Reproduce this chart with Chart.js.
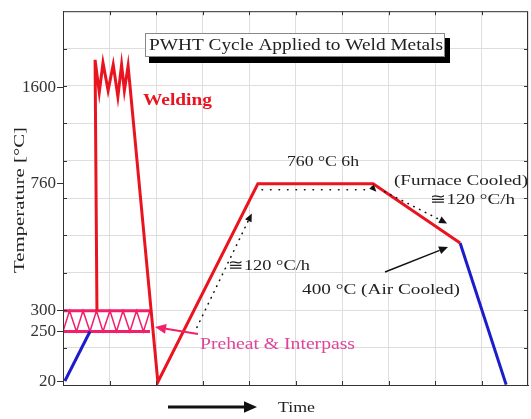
<!DOCTYPE html>
<html lang="en">
  <head>
    <meta charset="UTF-8" />
    <title>PWHT Cycle</title>
    <script src="https://cdn.jsdelivr.net/npm/chart.js"></script>
    <style>
      body {
        margin: 0;
        padding: 0;
        background: #fff;
      }
      canvas {
        display: block;
      }
    </style>
  </head>
  <body>
    <canvas id="pwhtChart" width="531" height="419"></canvas>

    <script>
      // time axis is schematic (grid units 0..10), temperatures in degC
      const tempTicks = [20, 250, 300, 760, 1600];

      const preheatTime = [0.04, 0.58];
      const preheatTemp = [20, 250];

      const cycleTime = [0.73, 0.69, 0.78, 0.86, 0.97, 1.08, 1.18, 1.26, 1.32, 1.4, 2.04, 4.19, 6.67, 8.54];
      const cycleTemp = [300, 1842, 1557, 1816, 1574, 1800, 1520, 1800, 1574, 1790, 15, 760, 760, 545];

      const airTime = [8.54, 9.53];
      const airTemp = [545, 2];

      const bandTime = [0, 1.87];
      const bandTop = [300, 300];
      const bandBottom = [250, 250];

      const zigTime = [0, 0.14, 0.29, 0.43, 0.58, 0.72, 0.86, 1.01, 1.15, 1.29, 1.44, 1.58, 1.73, 1.87];
      const zigTemp = [250, 300, 250, 300, 250, 300, 250, 300, 250, 300, 250, 300, 250, 300];

      // the temperature axis is broken: each label sits at its own height
      const axisTemps = [0, 20, 250, 300, 760, 1600, 2267];
      const axisFracs = [0, 0.0106, 0.1432, 0.1989, 0.5385, 0.7958, 1];

      function tempToFrac(t) {
        for (let i = 1; i < axisTemps.length; i++) {
          if (t <= axisTemps[i] || i === axisTemps.length - 1) {
            const k = (t - axisTemps[i - 1]) / (axisTemps[i] - axisTemps[i - 1]);
            return axisFracs[i - 1] + k * (axisFracs[i] - axisFracs[i - 1]);
          }
        }
      }
      function fracToTemp(f) {
        for (let i = 1; i < axisFracs.length; i++) {
          if (f <= axisFracs[i] || i === axisFracs.length - 1) {
            const k = (f - axisFracs[i - 1]) / (axisFracs[i] - axisFracs[i - 1]);
            return axisTemps[i - 1] + k * (axisTemps[i] - axisTemps[i - 1]);
          }
        }
      }

      class TempScale extends Chart.LinearScale {
        getPixelForValue(v) {
          return this.getPixelForDecimal(tempToFrac(v));
        }
        getValueForPixel(p) {
          return fracToTemp(this.getDecimalForPixel(p));
        }
      }
      TempScale.id = "temp";
      TempScale.defaults = {};
      Chart.register(TempScale);

      const RED = "#ea1420";
      const BLUE = "#1c1ccc";
      const PINK = "#f2206a";
      const SERIF = "'Liberation Serif', 'Times New Roman', serif";

      function pts(xs, ys) {
        return xs.map((x, i) => ({ x: x, y: ys[i] }));
      }

      function line(data, color, width) {
        return {
          data: data,
          borderColor: color,
          borderWidth: width,
          pointRadius: 0,
          tension: 0,
          fill: false,
          yAxisID: "y",
        };
      }

      // text squeezed/stretched to the width it has in the picture
      function text(ctx, str, x, y, size, w, color, opts) {
        opts = opts || {};
        ctx.save();
        ctx.font = (opts.bold ? "bold " : "") + size + "px " + SERIF;
        ctx.fillStyle = color;
        ctx.textBaseline = "middle";
        ctx.textAlign = "left";
        const m = ctx.measureText(str).width;
        ctx.translate(x, y);
        if (opts.rotate) ctx.rotate(opts.rotate);
        ctx.scale(w / m, 1);
        ctx.fillText(str, opts.center ? -m / 2 : 0, 0);
        ctx.restore();
      }

      function arrow(ctx, x1, y1, x2, y2, color, width, head, dash) {
        const a = Math.atan2(y2 - y1, x2 - x1);
        const bx = x2 - head * Math.cos(a);
        const by = y2 - head * Math.sin(a);
        ctx.save();
        ctx.strokeStyle = color;
        ctx.fillStyle = color;
        ctx.lineWidth = width;
        if (dash) {
          ctx.setLineDash(dash);
          ctx.lineCap = "round";
        }
        ctx.beginPath();
        ctx.moveTo(x1, y1);
        ctx.lineTo(bx, by);
        ctx.stroke();
        ctx.setLineDash([]);
        const hw = head * 0.45;
        ctx.beginPath();
        ctx.moveTo(x2, y2);
        ctx.lineTo(bx + hw * Math.sin(a), by - hw * Math.cos(a));
        ctx.lineTo(bx - hw * Math.sin(a), by + hw * Math.cos(a));
        ctx.closePath();
        ctx.fill();
        ctx.restore();
      }

      const framePlugin = {
        id: "frame",
        afterDraw(chart) {
          const ctx = chart.ctx;
          const a = chart.chartArea;
          const xs = chart.scales.x;
          const ys = chart.scales.g;
          ctx.save();
          ctx.strokeStyle = "#333";
          ctx.lineWidth = 1;
          ctx.strokeRect(a.left + 0.5, a.top + 0.5, a.right - a.left - 1, a.bottom - a.top);
          // small inner ticks on every side
          ctx.beginPath();
          for (let i = 1; i < 10; i++) {
            const px = Math.round(xs.getPixelForValue(i)) + 0.5;
            ctx.moveTo(px, a.top);
            ctx.lineTo(px, a.top + 4);
            ctx.moveTo(px, a.bottom);
            ctx.lineTo(px, a.bottom - 4);
            const py = Math.round(ys.getPixelForValue(i)) + 0.5;
            ctx.moveTo(a.left, py);
            ctx.lineTo(a.left + 4, py);
            ctx.moveTo(a.right, py);
            ctx.lineTo(a.right - 4, py);
          }
          ctx.stroke();
          ctx.restore();
        },
      };

      const notesPlugin = {
        id: "notes",
        afterDatasetsDraw(chart) {
          const ctx = chart.ctx;
          const X = (v) => chart.scales.x.getPixelForValue(v);
          const Y = (v) => chart.scales.y.getPixelForValue(v);

          // title box with drop shadow
          ctx.save();
          ctx.fillStyle = "#000";
          ctx.fillRect(149, 38, 301, 25);
          ctx.fillStyle = "#fff";
          ctx.fillRect(145, 33, 300, 24);
          ctx.strokeStyle = "#888";
          ctx.lineWidth = 1;
          ctx.strokeRect(145.5, 33.5, 299, 23);
          ctx.restore();
          text(ctx, "PWHT Cycle Applied to Weld Metals", 149, 46, 16, 294, "#222");

          text(ctx, "Welding", 143, 101, 17, 69, RED, { bold: true });
          text(ctx, "760 \u00B0C 6h", 287, 162, 15, 72, "#222");
          text(ctx, "(Furnace Cooled)", 394, 181, 15, 134, "#222");
          text(ctx, "\u2245120 \u00B0C/h", 430, 200, 15, 85, "#222");
          text(ctx, "\u2245120 \u00B0C/h", 228, 266, 15, 82, "#222");
          text(ctx, "400 \u00B0C (Air Cooled)", 302, 290, 15, 158, "#222");
          text(ctx, "Preheat & Interpass", 200, 345, 16, 155, "#e0449a");
          text(ctx, "Time", 278, 408, 15, 37, "#222");
          text(ctx, "Temperature [\u00B0C]", 20, 200, 15, 146, "#222", {
            rotate: -Math.PI / 2,
            center: true,
          });

          // dotted guides along the heating, hold and cooling legs
          arrow(ctx, X(2.88), Y(260), X(4.06), Y(652), "#111", 1.6, 8, [0.5, 6]);
          ctx.save();
          ctx.strokeStyle = "#111";
          ctx.lineWidth = 1.6;
          ctx.lineCap = "round";
          ctx.setLineDash([0.5, 8]);
          ctx.beginPath();
          ctx.moveTo(X(4.28), Y(738));
          ctx.lineTo(X(6.6), Y(738));
          ctx.stroke();
          ctx.restore();
          arrow(ctx, X(6.7), Y(738), X(6.74), Y(731), "#111", 1, 7);
          arrow(ctx, X(6.92), Y(731), X(8.26), Y(616), "#111", 1.6, 8, [0.5, 6]);

          // pointer to the cooling knee
          arrow(ctx, 385, 272, 448, 247, "#111", 1.4, 9);
          // preheat pointer
          arrow(ctx, 198, 334, 155, 327, PINK, 2, 11);
          // time arrow
          arrow(ctx, 168, 407, 257, 407, "#111", 3, 13);
        },
      };

      const ctx = document.getElementById("pwhtChart").getContext("2d");
      new Chart(ctx, {
        type: "line",
        data: {
          datasets: [
            line(pts(cycleTime, cycleTemp), RED, 3),
            line(pts(airTime, airTemp), BLUE, 3),
            line(pts(preheatTime, preheatTemp), BLUE, 3),
            line(pts(bandTime, bandTop), PINK, 3),
            line(pts(bandTime, bandBottom), PINK, 3),
            line(pts(zigTime, zigTemp), PINK, 1.5),
          ],
        },
        options: {
          responsive: false,
          animation: false,
          events: [],
          layout: { padding: { top: 8, right: 3, left: 0, bottom: 0 } },
          plugins: {
            legend: { display: false },
            tooltip: { enabled: false },
          },
          scales: {
            x: {
              type: "linear",
              min: 0,
              max: 10,
              ticks: { display: false, stepSize: 1 },
              grid: { color: "#dedede", drawTicks: false },
              border: { color: "#333", width: 1 },
              afterFit: (s) => {
                s.height = 34;
              },
            },
            y: {
              type: "temp",
              position: "left",
              min: 0,
              max: 2267,
              afterBuildTicks: (s) => {
                s.ticks = tempTicks.map((v) => ({ value: v }));
              },
              ticks: {
                autoSkip: false,
                color: "#333",
                padding: 1,
                font: { family: SERIF, size: 17 },
                callback: (v) => v,
              },
              grid: { drawOnChartArea: false, tickLength: 6, color: "#333" },
              border: { color: "#333", width: 1 },
              afterFit: (s) => {
                s.width = 63;
              },
            },
            g: {
              type: "linear",
              position: "right",
              min: 0,
              max: 10,
              ticks: { display: false, stepSize: 1 },
              grid: { color: "#dedede", drawTicks: false },
              border: { display: false },
              afterFit: (s) => {
                s.width = 0;
              },
            },
          },
        },
        plugins: [framePlugin, notesPlugin],
      });
    </script>
  </body>
</html>
